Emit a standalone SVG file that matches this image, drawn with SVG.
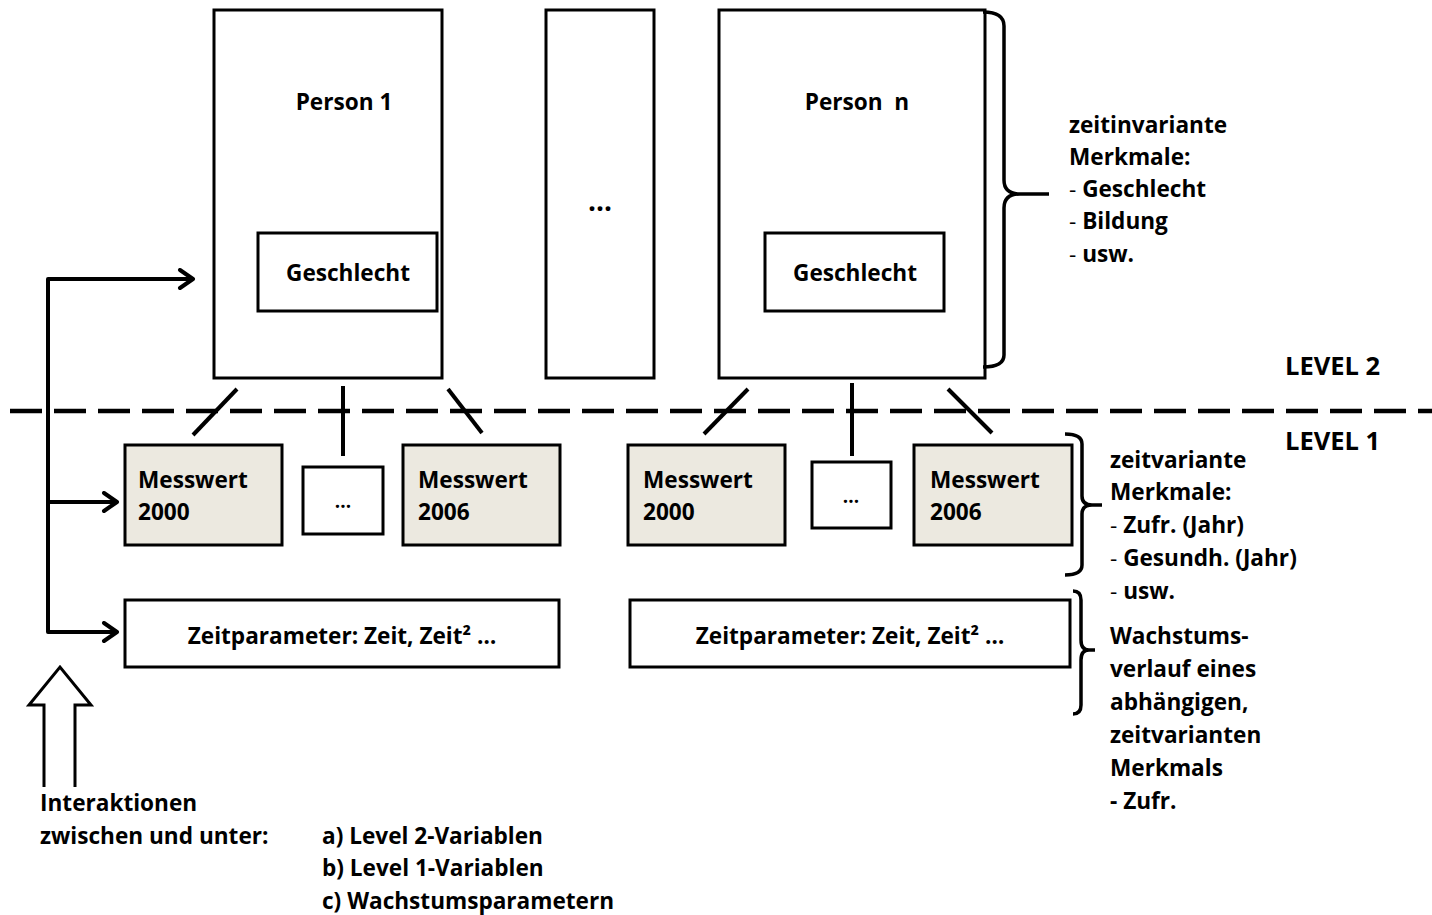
<svg xmlns="http://www.w3.org/2000/svg" width="1432" height="915" viewBox="0 0 1432 915">
<defs>
<style>
text{font-family:"Open Sans","Noto Sans","Liberation Sans",sans-serif;font-weight:bold;font-size:22.6px;fill:#000}
.box{fill:#fff;stroke:#000;stroke-width:3}
.mw{fill:#ECE9E0;stroke:#000;stroke-width:3}
.ln{fill:none;stroke:#000;stroke-width:4}
.br{fill:none;stroke:#000;stroke-width:3.5;stroke-linejoin:round}
.c{text-anchor:middle}
.n{font-weight:normal}
</style>
<marker id="chev" viewBox="0 0 22 22" refX="19" refY="11" markerWidth="22" markerHeight="22" markerUnits="userSpaceOnUse" orient="auto">
<polyline points="6,2 19,11 6,20" fill="none" stroke="#000" stroke-width="4" stroke-linecap="round" stroke-linejoin="round"/>
</marker>
</defs>
<rect width="1432" height="915" fill="#fff"/>

<g id="person1">
<rect class="box" x="214" y="10" width="228" height="368"/>
<text class="c" x="344" y="110">Person 1</text>
</g>
<g id="geschlecht1">
<rect class="box" x="258" y="233" width="179" height="78"/>
<text class="c" x="348" y="281">Geschlecht</text>
</g>
<g id="dots-mid">
<rect class="box" x="546" y="10" width="108" height="368"/>
<text class="c" x="600" y="211" style="font-size:28px">...</text>
</g>
<g id="personn">
<rect class="box" x="719" y="10" width="266" height="368"/>
<text class="c" x="857" y="110" xml:space="preserve">Person  n</text>
</g>
<g id="geschlecht2">
<rect class="box" x="765" y="233" width="179" height="78"/>
<text class="c" x="855" y="281">Geschlecht</text>
</g>

<g id="mw2000a">
<rect class="mw" x="125" y="445" width="157" height="100"/>
<text x="138" y="488">Messwert</text><text x="138" y="520">2000</text>
</g>
<g id="dotsa">
<rect class="box" x="303" y="467" width="80" height="67"/>
<text class="c" x="343" y="508" style="font-size:19px">...</text>
</g>
<g id="mw2006a">
<rect class="mw" x="403" y="445" width="157" height="100"/>
<text x="418" y="488">Messwert</text><text x="418" y="520">2006</text>
</g>
<g id="mw2000b">
<rect class="mw" x="628" y="445" width="157" height="100"/>
<text x="643" y="488">Messwert</text><text x="643" y="520">2000</text>
</g>
<g id="dotsb">
<rect class="box" x="812" y="462" width="79" height="66"/>
<text class="c" x="851" y="503" style="font-size:19px">...</text>
</g>
<g id="mw2006b">
<rect class="mw" x="914" y="445" width="158" height="100"/>
<text x="930" y="488">Messwert</text><text x="930" y="520">2006</text>
</g>

<g id="zeitA">
<rect class="box" x="125" y="600" width="434" height="67"/>
<text class="c" x="342" y="644">Zeitparameter: Zeit, Zeit² …</text>
</g>
<g id="zeitB">
<rect class="box" x="630" y="600" width="440" height="67"/>
<text class="c" x="850" y="644">Zeitparameter: Zeit, Zeit² …</text>
</g>

<g id="connectors">
<line x1="10" y1="411" x2="1432" y2="411" stroke="#000" stroke-width="4.5" stroke-dasharray="32 12"/>
<line class="ln" x1="237" y1="389" x2="193" y2="435"/>
<line class="ln" x1="343" y1="386" x2="343" y2="456"/>
<line class="ln" x1="448" y1="389" x2="482" y2="433"/>
<line class="ln" x1="748" y1="389" x2="704" y2="434"/>
<line class="ln" x1="852" y1="383" x2="852" y2="456"/>
<line class="ln" x1="948" y1="389" x2="992" y2="433"/>
<polyline class="ln" points="192,279 48,279 48,632 117,632" marker-end="url(#chev)" style="stroke-linejoin:round"/>
<line class="ln" x1="50" y1="279" x2="193" y2="279" marker-end="url(#chev)"/>
<line class="ln" x1="48" y1="502" x2="117" y2="502" marker-end="url(#chev)"/>
</g>

<g id="braces">
<path class="br" d="M983,12 Q1004,12 1004,26 L1004,180 Q1004,194 1020,194 L1049,194 M1020,194 Q1004,194 1004,208 L1004,355 Q1004,367 983,367"/>
<path class="br" d="M1065,434 Q1082,434 1082,444 L1082,496 Q1082,505 1092,505 L1102,505 M1092,505 Q1082,505 1082,514 L1082,565 Q1082,575 1065,575"/>
<path class="br" d="M1073,591 Q1081,591 1081,600 L1081,640 Q1081,650 1089,650 L1095,650 M1089,650 Q1081,650 1081,660 L1081,705 Q1081,714 1073,714"/>
</g>

<g id="up-arrow">
<polyline points="44,787 44,705 29,705 60,667 91,705 75,705 75,787" fill="#fff" stroke="#000" stroke-width="3" stroke-linejoin="miter"/>
</g>

<g id="labels">
<text x="1069" y="133">zeitinvariante</text>
<text x="1069" y="165">Merkmale:</text>
<text x="1069" y="197"><tspan class="n">- </tspan>Geschlecht</text>
<text x="1069" y="229"><tspan class="n">- </tspan>Bildung</text>
<text x="1069" y="262"><tspan class="n">- </tspan>usw.</text>
<text x="1285" y="375" style="font-size:25.5px">LEVEL 2</text>
<text x="1285" y="450" style="font-size:25.5px">LEVEL 1</text>
<text x="1110" y="468">zeitvariante</text>
<text x="1110" y="500">Merkmale:</text>
<text x="1110" y="533"><tspan class="n">- </tspan>Zufr. (Jahr)</text>
<text x="1110" y="566"><tspan class="n">- </tspan>Gesundh. (Jahr)</text>
<text x="1110" y="599"><tspan class="n">- </tspan>usw.</text>
<text x="1110" y="644">Wachstums-</text>
<text x="1110" y="677">verlauf eines</text>
<text x="1110" y="710">abhängigen,</text>
<text x="1110" y="743">zeitvarianten</text>
<text x="1110" y="776">Merkmals</text>
<text x="1110" y="809">- Zufr.</text>
<text x="40" y="811">Interaktionen</text>
<text x="40" y="844">zwischen und unter:</text>
<text x="322" y="844">a) Level 2-Variablen</text>
<text x="322" y="876">b) Level 1-Variablen</text>
<text x="322" y="909">c) Wachstumsparametern</text>
</g>
</svg>
